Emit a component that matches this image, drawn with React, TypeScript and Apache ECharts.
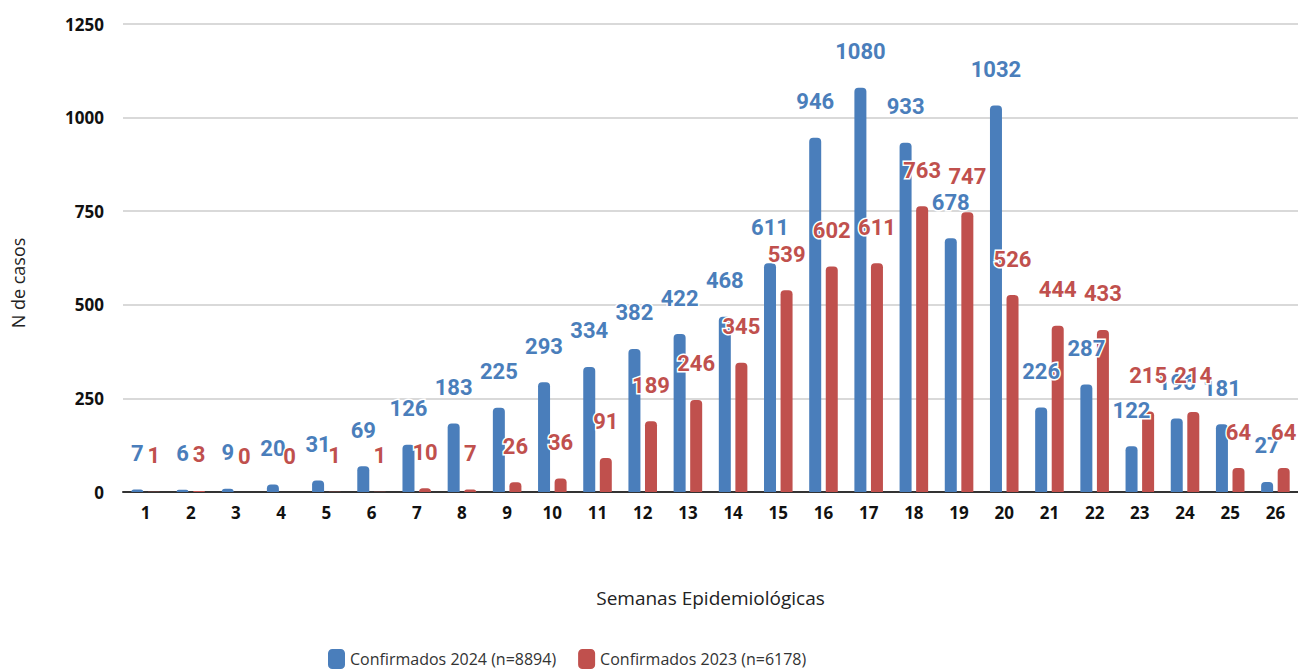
import React, { useEffect, useRef } from "react";
import * as echarts from "echarts";

const weeks = ["1","2","3","4","5","6","7","8","9","10","11","12","13","14","15","16","17","18","19","20","21","22","23","24","25","26"];
const confirmed2024 = [7, 6, 9, 20, 31, 69, 126, 183, 225, 293, 334, 382, 422, 468, 611, 946, 1080, 933, 678, 1032, 226, 287, 122, 196, 181, 27];
const confirmed2023 = [1, 3, 0, 0, 1, 1, 10, 7, 26, 36, 91, 189, 246, 345, 539, 602, 611, 763, 747, 526, 444, 433, 215, 214, 64, 64];
const seriesNames = ["Confirmados 2024 (n=8894)", "Confirmados 2023 (n=6178)"];
const yTicks = { min: 0, max: 1250, interval: 250 };

const BLUE = "#4a7ebb";
const RED = "#c0504d";

export default function App() {
  const ref = useRef<HTMLDivElement>(null);
  useEffect(() => {
    if (!ref.current) return;
    const chart = echarts.init(ref.current, null, { renderer: "svg" });
    const labelStyle = (color: string) => ({
      show: true,
      position: "top",
      distance: 25,
      color,
      fontFamily: "Roboto",
      fontWeight: "bold",
      fontSize: 22,
      textBorderColor: "#ffffff",
      textBorderWidth: 3,
    });
    chart.setOption({
      animation: false,
      backgroundColor: "#ffffff",
      grid: { left: 123, right: 0, top: 24, bottom: 179, containLabel: false },
      legend: {
        data: seriesNames,
        left: 323,
        top: 644,
        itemWidth: 17,
        itemHeight: 20,
        itemGap: 22,
        icon: "roundRect",
        textStyle: { fontFamily: "Open Sans", fontSize: 16, color: "#333" },
      },
      graphic: [
        {
          type: "text",
          x: 18,
          y: 283,
          rotation: Math.PI / 2,
          style: {
            text: "N de casos",
            align: "center",
            verticalAlign: "middle",
            font: "18px 'Open Sans'",
            fill: "#222",
          },
        },
      ],
      xAxis: {
        type: "category",
        data: weeks,
        name: "Semanas Epidemiológicas",
        nameLocation: "middle",
        nameGap: 96,
        nameTextStyle: { fontFamily: "Open Sans", fontSize: 19, color: "#222" },
        axisLine: { lineStyle: { color: "#333", width: 2 } },
        axisTick: { show: false },
        axisLabel: {
          margin: 12,
          fontFamily: "Open Sans",
          fontWeight: "bold",
          fontSize: 17,
          color: "#111",
        },
      },
      yAxis: {
        type: "value",
        min: yTicks.min,
        max: yTicks.max,
        interval: yTicks.interval,
        axisLine: { show: false },
        axisTick: { show: false },
        splitLine: { lineStyle: { color: "#cccccc", width: 1.5 } },
        axisLabel: {
          margin: 19,
          fontFamily: "Open Sans",
          fontWeight: "bold",
          fontSize: 17,
          color: "#111",
          formatter: (v: number) => String(v),
        },
      },
      series: [
        {
          name: seriesNames[0],
          type: "bar",
          data: confirmed2024,
          barWidth: 12,
          barGap: "38%",
          itemStyle: { color: BLUE, borderRadius: [4, 4, 0, 0] },
          label: labelStyle(BLUE),
        },
        {
          name: seriesNames[1],
          type: "bar",
          data: confirmed2023,
          barWidth: 12,
          itemStyle: { color: RED, borderRadius: [4, 4, 0, 0] },
          label: labelStyle(RED),
        },
      ],
    });
    return () => chart.dispose();
  }, []);
  return (
    <div
      ref={ref}
      style={{ position: "fixed", left: 0, top: 0, width: 1298, height: 671 }}
    />
  );
}
